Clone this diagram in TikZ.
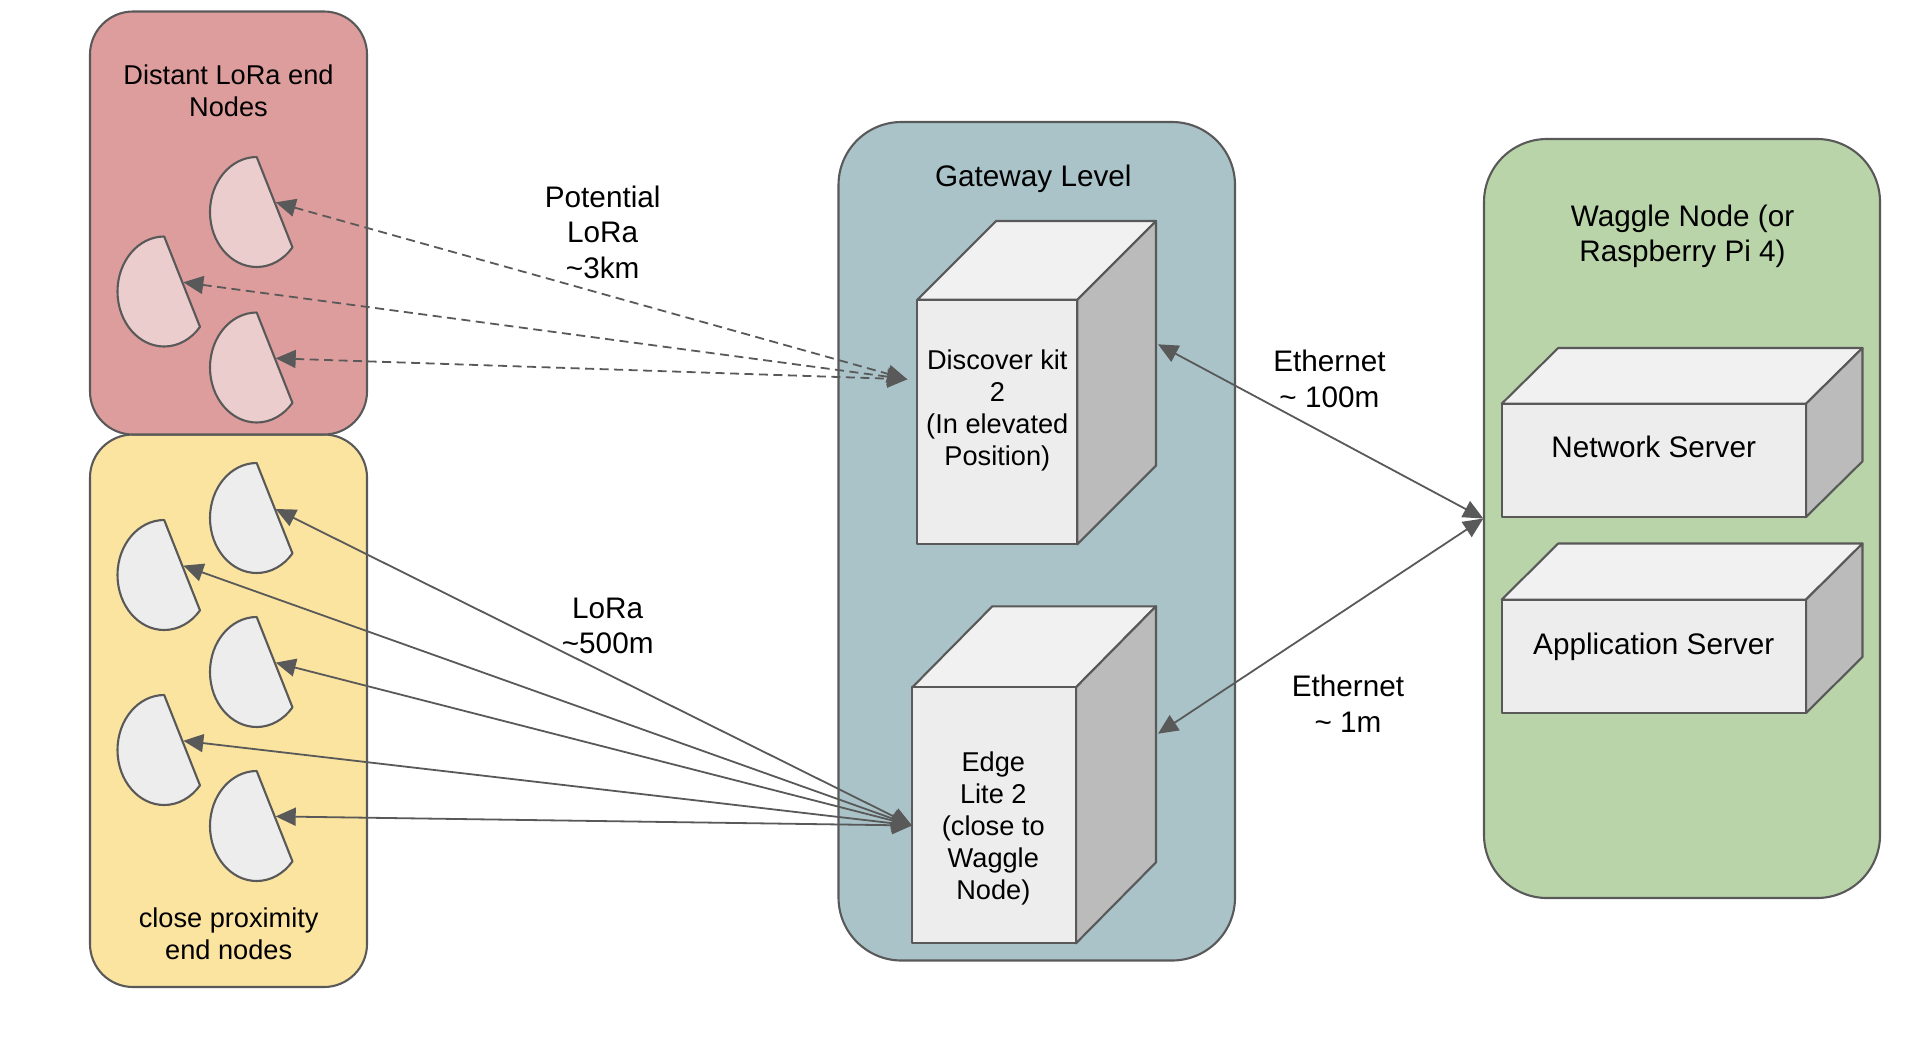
\documentclass[tikz,border=0pt]{standalone}
\usepackage{fontspec}
\setmainfont{Liberation Sans}
\usetikzlibrary{arrows.meta}
\definecolor{edgeC}{HTML}{595959}
\definecolor{redbg}{HTML}{DE9D9D}
\definecolor{yellowbg}{HTML}{FBE3A0}
\definecolor{tealbg}{HTML}{A9C3C9}
\definecolor{greenbg}{HTML}{B9D4A8}
\definecolor{frontC}{HTML}{EDEDED}
\definecolor{topC}{HTML}{F1F1F1}
\definecolor{sideC}{HTML}{BBBBBB}
\definecolor{pinkC}{HTML}{ECCDCD}
\tikzset{
  x=1pt,y=-1pt,
  outl/.style={draw=edgeC,line width=2.1pt,line join=round},
  txtS/.style={font=\fontsize{27.2}{32}\selectfont,align=center,inner sep=0pt,anchor=base,text=black},
  txtL/.style={font=\fontsize{29.7}{35.5}\selectfont,align=center,inner sep=0pt,anchor=base,text=black},
  link/.style={draw=edgeC,line width=1.8pt,{Triangle[length=20pt,width=18pt,fill=edgeC]}-{Triangle[length=20pt,width=18pt,fill=edgeC]}},
  dlink/.style={link,dash pattern=on 9pt off 5.5pt},
}
\newcommand{\cubeshape}[6]{% x1 y1 x2 y2 dx dy
  \path[outl,fill=topC] (#1,#2) -- ({#1+#5},{#2-#6}) -- ({#3+#5},{#2-#6}) -- (#3,#2) -- cycle;
  \path[outl,fill=sideC] (#3,#2) -- ({#3+#5},{#2-#6}) -- ({#3+#5},{#4-#6}) -- (#3,#4) -- cycle;
  \path[outl,fill=frontC] (#1,#2) rectangle (#3,#4);
}
\newcommand{\halfdisc}[3]{% cx cy fill
  \path[outl,fill=#3] ({#1+46.7*cos(90)},{#2-55*sin(90)}) arc[start angle=90,end angle=320,x radius=46.7,y radius=-55] -- cycle;
}
\begin{document}
\begin{tikzpicture}
\useasboundingbox (0,-1) rectangle (1918,1057);
% containers
\path[outl,fill=yellowbg,rounded corners=43pt] (90,433.5) rectangle (367,986);
\path[outl,fill=redbg,rounded corners=43pt] (90,10.5) rectangle (367,433.5);
\path[outl,fill=tealbg,rounded corners=63pt] (838.5,121) rectangle (1235,959.5);
\path[outl,fill=greenbg,rounded corners=63pt] (1484,138) rectangle (1880,897);
% end nodes
\halfdisc{256.7}{211}{pinkC}
\halfdisc{164.2}{290.5}{pinkC}
\halfdisc{256.7}{366.5}{pinkC}
\halfdisc{256.7}{517}{frontC}
\halfdisc{164.2}{574}{frontC}
\halfdisc{256.7}{671}{frontC}
\halfdisc{164.2}{749}{frontC}
\halfdisc{256.7}{825}{frontC}
% cubes
\cubeshape{917.3}{298.7}{1077.3}{543.3}{78.7}{78.7}
\cubeshape{912.3}{686.3}{1076}{942.3}{80}{81}
\cubeshape{1501.7}{402.7}{1806}{516}{56.5}{55.7}
\cubeshape{1501.7}{598.6}{1806}{712}{56.5}{56.1}
% ports
\coordinate (r1) at (275.7,201.3);
\coordinate (r2) at (183.3,281.3);
\coordinate (r3) at (275.7,357.3);
\coordinate (y1) at (275.7,508);
\coordinate (y2) at (183.3,564.6);
\coordinate (y3) at (275.7,661.6);
\coordinate (y4) at (183.3,739.8);
\coordinate (y5) at (275.7,815.4);
\coordinate (dk) at (907.3,378.3);
\coordinate (el) at (912,824.5);
\coordinate (dkE) at (1158,343.3);
\coordinate (elE) at (1158,732.7);
\coordinate (wn) at (1483.3,517.5);
% links
\path[dlink] (r1) -- (dk);
\path[dlink] (r2) -- (dk);
\path[dlink] (r3) -- (dk);
\path[link] (y1) -- (el);
\path[link] (y2) -- (el);
\path[link] (y3) -- (el);
\path[link] (y4) -- (el);
\path[link] (y5) -- (el);
\path[link] (dkE) -- (wn);
\path[link] (elE) -- (wn);
% text (anchor=base sits on the last line)
\node[txtS] (tDist) at (228.5,115) {Distant LoRa end\\Nodes};
\node[txtS] (tClose) at (228.7,958.8) {close proximity\\end nodes};
\node[txtL] (tGate) at (1033.3,185.5) {Gateway Level};
\node[txtS] (tDisc) at (997.3,464.3) {Discover kit\\2\\(In elevated\\Position)};
\node[txtS] (tEdge) at (993.3,898.8) {Edge\\Lite 2\\(close to\\Waggle\\Node)};
\node[txtL] (tWag) at (1682.5,260.8) {Waggle Node (or\\Raspberry Pi 4)};
\node[txtL] (tNet) at (1653.7,456.7) {Network Server};
\node[txtL] (tApp) at (1653.7,653.5) {Application Server};
\node[txtL] (tPot) at (602.7,277.3) {Potential\\LoRa\\\textasciitilde3km};
\node[txtL] (tLora) at (607.7,652.7) {LoRa\\\textasciitilde500m};
\node[txtL] (tEth1) at (1329.4,406) {Ethernet\\\textasciitilde\ 100m};
\node[txtL] (tEth2) at (1348,731) {Ethernet\\\textasciitilde\ 1m};
\end{tikzpicture}
\end{document}
